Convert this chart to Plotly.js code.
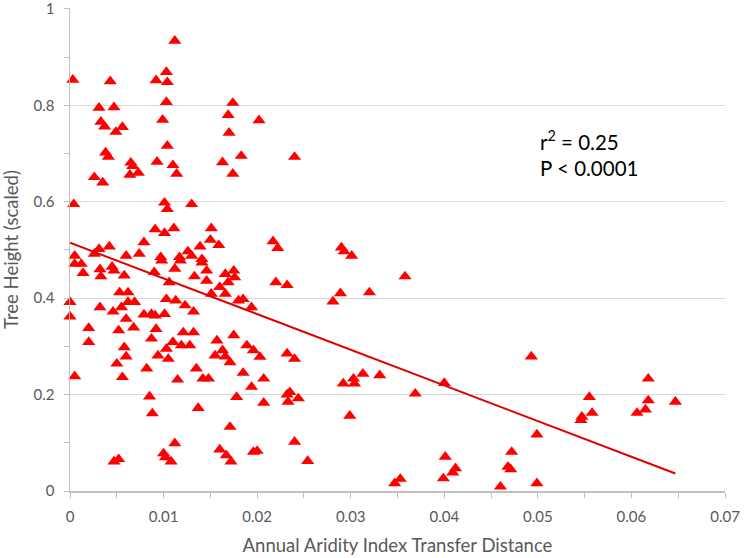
<!DOCTYPE html>
<html>
<head>
<meta charset="utf-8">
<script src="https://cdn.plot.ly/plotly-3.0.1.min.js"></script>
<style>
  html, body { margin: 0; padding: 0; background: #fff; }
  #chart { width: 746px; height: 558px; }
</style>
</head>
<body>
<div id="chart"></div>
<script>
// Aridity transfer distance vs scaled tree height
const transferDistance = [
  0.0003, 0.0043, 0.0031, 0.0047, 0.0033, 0.0037, 0.0049, 0.0056, 0.0038, 0.0041,
  0.0026, 0.0035, 0.0065, 0.0067, 0.0064, 0.0073, 0.0092, 0.0103, 0.0104, 0.0112,
  0.0103, 0.0099, 0.0104, 0.0093, 0.0110, 0.0114, 0.0174, 0.0169, 0.0170, 0.0163,
  0.0174, 0.0183, 0.0202, 0.0004, 0.0101, 0.0104, 0.0130, 0.0091, 0.0101, 0.0111,
  0.0151, 0.0150, 0.0159, 0.0139, 0.0079, 0.0042, 0.0031, 0.0005, 0.0026, 0.0060,
  0.0074, 0.0097, 0.0117, 0.0126, 0.0130, 0.0141, 0.0005, 0.0012, 0.0014, 0.0032,
  0.0033, 0.0045, 0.0047, 0.0058, 0.0090, 0.0098, 0.0106, 0.0112, 0.0118, 0.0133,
  0.0141, 0.0146, 0.0146, 0.0151, 0.0160, 0.0166, 0.0169, 0.0175, 0.0176, 0.0166,
  0.0180, 0.0185, 0.0194, 0.0000, 0.0000, 0.0020, 0.0020, 0.0005, 0.0032, 0.0046,
  0.0053, 0.0062, 0.0055, 0.0062, 0.0069, 0.0060, 0.0052, 0.0068, 0.0058, 0.0060,
  0.0050, 0.0056, 0.0079, 0.0087, 0.0091, 0.0101, 0.0103, 0.0113, 0.0123, 0.0132,
  0.0092, 0.0087, 0.0094, 0.0103, 0.0105, 0.0110, 0.0119, 0.0121, 0.0128, 0.0132,
  0.0082, 0.0115, 0.0135, 0.0142, 0.0148, 0.0085, 0.0088, 0.0137, 0.0157, 0.0155,
  0.0163, 0.0166, 0.0171, 0.0175, 0.0189, 0.0196, 0.0185, 0.0194, 0.0178, 0.0171,
  0.0160, 0.0167, 0.0172, 0.0196, 0.0047, 0.0052, 0.0100, 0.0102, 0.0108, 0.0112,
  0.0240, 0.0217, 0.0222, 0.0290, 0.0293, 0.0301, 0.0220, 0.0232, 0.0289, 0.0281,
  0.0320, 0.0358, 0.0203, 0.0207, 0.0207, 0.0232, 0.0240, 0.0232, 0.0235, 0.0233,
  0.0244, 0.0292, 0.0303, 0.0304, 0.0313, 0.0331, 0.0369, 0.0400, 0.0299, 0.0200,
  0.0240, 0.0254, 0.0347, 0.0353, 0.0401, 0.0399, 0.0493, 0.0409, 0.0412, 0.0499,
  0.0499, 0.0460, 0.0472, 0.0468, 0.0471, 0.0555, 0.0558, 0.0547, 0.0546, 0.0618,
  0.0618, 0.0615, 0.0606, 0.0647
];
const treeHeight = [
  0.853, 0.850, 0.795, 0.796, 0.766, 0.756, 0.745, 0.755, 0.702, 0.693,
  0.651, 0.640, 0.681, 0.674, 0.656, 0.660, 0.852, 0.869, 0.848, 0.934,
  0.807, 0.770, 0.716, 0.683, 0.676, 0.658, 0.805, 0.780, 0.743, 0.682,
  0.658, 0.695, 0.769, 0.595, 0.598, 0.585, 0.595, 0.543, 0.535, 0.545,
  0.545, 0.521, 0.510, 0.507, 0.516, 0.507, 0.502, 0.488, 0.492, 0.488,
  0.492, 0.485, 0.485, 0.497, 0.488, 0.481, 0.471, 0.471, 0.452, 0.460,
  0.445, 0.465, 0.457, 0.447, 0.454, 0.478, 0.433, 0.461, 0.478, 0.445,
  0.474, 0.457, 0.436, 0.409, 0.423, 0.450, 0.433, 0.457, 0.443, 0.409,
  0.395, 0.398, 0.381, 0.392, 0.362, 0.338, 0.309, 0.238, 0.381, 0.372,
  0.412, 0.412, 0.381, 0.392, 0.392, 0.357, 0.333, 0.339, 0.298, 0.279,
  0.264, 0.236, 0.366, 0.367, 0.364, 0.367, 0.398, 0.395, 0.385, 0.372,
  0.336, 0.316, 0.281, 0.295, 0.274, 0.309, 0.302, 0.329, 0.302, 0.329,
  0.254, 0.231, 0.254, 0.233, 0.233, 0.196, 0.161, 0.172, 0.312, 0.281,
  0.292, 0.279, 0.267, 0.323, 0.302, 0.292, 0.245, 0.216, 0.195, 0.133,
  0.086, 0.074, 0.061, 0.081, 0.061, 0.066, 0.078, 0.070, 0.061, 0.099,
  0.693, 0.518, 0.504, 0.505, 0.497, 0.488, 0.433, 0.427, 0.410, 0.393,
  0.412, 0.445, 0.278, 0.233, 0.183, 0.285, 0.274, 0.200, 0.205, 0.185,
  0.192, 0.223, 0.233, 0.223, 0.243, 0.240, 0.202, 0.224, 0.156, 0.083,
  0.102, 0.062, 0.016, 0.025, 0.071, 0.026, 0.279, 0.038, 0.047, 0.117,
  0.016, 0.009, 0.081, 0.050, 0.045, 0.195, 0.162, 0.154, 0.147, 0.233,
  0.188, 0.169, 0.162, 0.185
];

// linear fit
const fitIntercept = 0.515;
const fitSlope = -7.4;

const yTicks = [0, 0.2, 0.4, 0.6, 0.8, 1];
const yTickLabels = ["0", "0.2", "0.4", "0.6", "0.8", "1"];

const xMin = Math.min(...transferDistance);
const xMax = Math.max(...transferDistance);
const fitX = [xMin, xMax];
const fitY = fitX.map(x => fitIntercept + fitSlope * x);

const fontFamily = "Lato, 'Open Sans', sans-serif";

Plotly.newPlot("chart", [
  {
    x: transferDistance,
    y: treeHeight,
    type: "scatter",
    mode: "markers",
    marker: { symbol: "triangle-up", size: 11.5, color: "#ff0000" },
    cliponaxis: false,
    showlegend: false
  },
  {
    x: fitX,
    y: fitY,
    type: "scatter",
    mode: "lines",
    line: { color: "#e00000", width: 2 },
    showlegend: false
  }
], {
  width: 746,
  height: 558,
  paper_bgcolor: "#ffffff",
  plot_bgcolor: "#ffffff",
  font: { family: fontFamily, size: 15, color: "#595959" },
  margin: { t: 8, b: 67, l: 70, r: 21 },
  xaxis: {
    range: [0, 0.07],
    dtick: 0.01,
    tick0: 0,
    ticks: "outside",
    ticklen: 5,
    tickcolor: "#bfbfbf",
    ticklabelstandoff: 6,
    ticklabeloverflow: "allow",
    showline: true,
    linecolor: "#bfbfbf",
    linewidth: 1.5,
    showgrid: false,
    zeroline: false,
    minor: { dtick: 0.005, ticks: "outside", ticklen: 5, tickcolor: "#bfbfbf", showgrid: false },
    title: { text: "Annual Aridity Index Transfer Distance", font: { size: 18.5, color: "#595959" }, standoff: 15 }
  },
  yaxis: {
    range: [0, 1.002],
    tickvals: yTicks,
    ticktext: yTickLabels,
    ticks: "outside",
    ticklen: 5,
    tickcolor: "#bfbfbf",
    ticklabelstandoff: 6,
    ticklabeloverflow: "allow",
    showline: true,
    linecolor: "#bfbfbf",
    linewidth: 1.5,
    showgrid: true,
    gridcolor: "#d9d9d9",
    zeroline: false,
    minor: { dtick: 0.1, ticks: "outside", ticklen: 5, tickcolor: "#bfbfbf", showgrid: false },
    title: { text: "Tree Height (scaled)", font: { size: 18.5, color: "#595959" }, standoff: 12 }
  },
  annotations: [
    {
      xref: "paper", yref: "paper",
      x: 0.714, y: 0.698,
      xanchor: "left", yanchor: "middle",
      align: "left",
      showarrow: false,
      text: "r<sup>2</sup> = 0.25<br>P < 0.0001",
      font: { family: fontFamily, size: 20.5, color: "#000000" }
    }
  ]
}, { displayModeBar: false, staticPlot: true });
</script>
</body>
</html>
